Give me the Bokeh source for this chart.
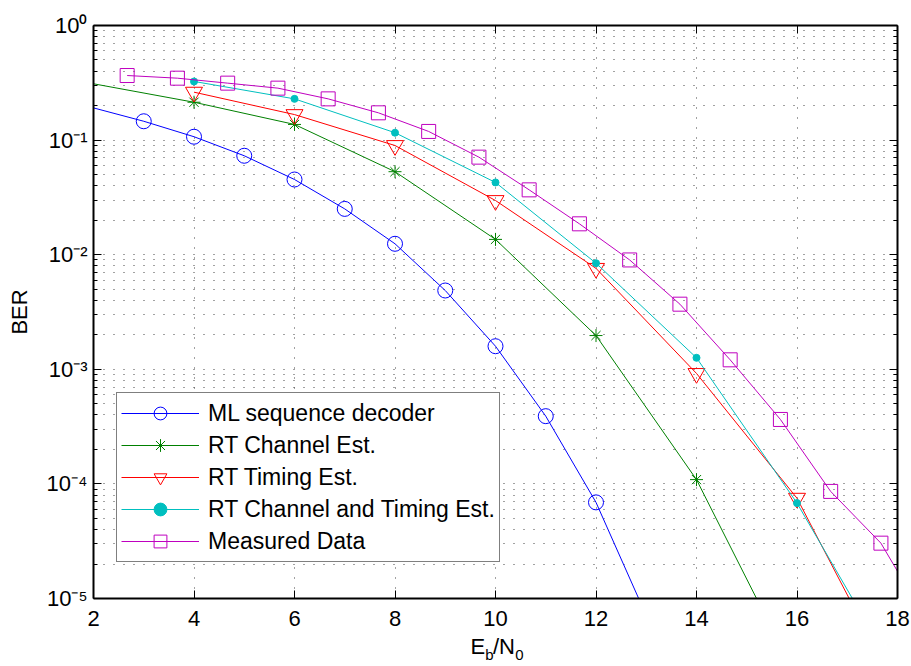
from bokeh.plotting import figure
from bokeh.models import (Range1d, FixedTicker, LogAxis, LinearAxis, Legend, LegendItem,
                          CustomJSTickFormatter)
from bokeh.embed import file_html
from bokeh.resources import INLINE

# ---------------- data ----------------
ml_x = [2, 3, 4, 5, 6, 7, 8, 9, 10, 11, 12, 13]
ml_ber = [0.191, 0.146, 0.107, 0.073, 0.0453, 0.0251, 0.01245, 0.00487, 0.00159, 3.9e-4, 6.9e-5, 7.1e-6]

ch_x = [2, 4, 6, 8, 10, 12, 14, 16]
ch_ber = [0.31, 0.214, 0.137, 0.053, 0.0136, 0.00197, 1.09e-4, 2.0e-6]

tm_x = [4, 6, 8, 10, 12, 14, 16, 18]
tm_ber = [0.262, 0.167, 0.0897, 0.0297, 0.0076, 9.2e-4, 7.5e-5, 1.55e-6]

ct_x = [4, 6, 8, 10, 12, 14, 16, 18]
ct_ber = [0.325, 0.229, 0.116, 0.0427, 0.00843, 1.26e-3, 6.8e-5, 2.1e-6]

ms_x = [2.67, 3.67, 4.67, 5.67, 6.67, 7.67, 8.67, 9.67, 10.67, 11.67, 12.67, 13.67,
        14.67, 15.67, 16.67, 17.67, 18.67]
ms_ber = [0.366, 0.347, 0.314, 0.284, 0.229, 0.173, 0.119, 0.071, 0.0368, 0.0186, 0.009,
          0.0037, 1.21e-3, 3.65e-4, 8.6e-5, 3.04e-5, 5.5e-6]

legend_labels = ["ML sequence decoder", "RT Channel Est.", "RT Timing Est.",
                 "RT Channel and Timing Est.", "Measured Data"]

x_ticks = [2, 4, 6, 8, 10, 12, 14, 16, 18]
y_exponents = [0, -1, -2, -3, -4, -5]
y_label = "BER"
x_label_main = ["E", "/N"]      # E_b / N_0 : full-size parts
x_label_sub = ["b", "0"]        # subscript parts

FONT = "Liberation Sans"

y_major = [10.0 ** k for k in y_exponents]
y_minor = [m * 10.0 ** k for k in y_exponents[1:] for m in range(2, 10)]

W, H = 911, 666
ML, MR, MT, MB = 93, 14, 25, 68

p = figure(width=W, height=H, y_axis_type="log",
           x_range=Range1d(x_ticks[0], x_ticks[-1]),
           y_range=Range1d(10.0 ** y_exponents[-1], 10.0 ** y_exponents[0]),
           output_backend="svg", toolbar_location=None,
           min_border_left=ML, min_border_right=MR, min_border_top=MT, min_border_bottom=MB)
p.outline_line_color = None
p.background_fill_color = "white"
p.border_fill_color = "white"

xt = FixedTicker(ticks=x_ticks)
yt = FixedTicker(ticks=y_major, minor_ticks=y_minor)
empty = CustomJSTickFormatter(code="return ''")
sup_fmt = CustomJSTickFormatter(code="""
const sup = {"0":"\u2070","1":"\u00b9","2":"\u00b2","3":"\u00b3","4":"\u2074",
             "5":"\u2075","6":"\u2076","7":"\u2077","8":"\u2078","9":"\u2079","-":"\u207b"};
const e = Math.round(Math.log10(tick));
return "10" + String(e).split("").map(c => sup[c]).join("");
""")

def style_axis(ax, labels=True):
    ax.axis_line_color = "black"
    ax.axis_line_width = 2
    ax.major_tick_line_color = "black"
    ax.major_tick_in = 8
    ax.major_tick_out = 0
    ax.minor_tick_line_color = "black"
    ax.minor_tick_in = 4
    ax.minor_tick_out = 0
    if not labels:
        ax.formatter = empty
        ax.major_label_text_font_size = "0px"
        ax.major_label_standoff = 0

p.xaxis.ticker = xt
p.yaxis.ticker = yt
style_axis(p.xaxis[0])
p.xaxis.minor_tick_line_color = None
p.xaxis.major_label_text_font = FONT
p.xaxis.major_label_text_font_size = "22px"
p.xaxis.major_label_text_color = "black"
p.xaxis.major_label_standoff = 12

style_axis(p.yaxis[0])
p.yaxis.formatter = sup_fmt
p.yaxis.major_label_text_font = FONT
p.yaxis.major_label_text_font_size = "22px"
p.yaxis.major_label_text_color = "black"
p.yaxis.major_label_standoff = 6
p.yaxis.axis_label = y_label
p.yaxis.axis_label_text_font = FONT
p.yaxis.axis_label_text_font_size = "22px"
p.yaxis.axis_label_text_font_style = "normal"
p.yaxis.axis_label_text_color = "black"
p.yaxis.axis_label_standoff = 12

top = LinearAxis(ticker=xt)
style_axis(top, labels=False)
top.minor_tick_line_color = None
p.add_layout(top, "above")
right = LogAxis(ticker=yt)
style_axis(right, labels=False)
p.add_layout(right, "right")

# ---- x axis title E_b/N_0 drawn as two label-only axes (main text, then subscripts) ----
px_per_unit = (W - ML - MR) / (x_ticks[-1] - x_ticks[0])
xc = (x_ticks[0] + x_ticks[-1]) / 2
main_centers_px = [-17.7, 8.5]    # centre of "E" and "/N" relative to the axis centre
sub_centers_px = [-6.0, 24.0]     # centre of "b" and "0"

def label_axis(centers_px, texts, font_size, standoff):
    ax = LinearAxis(ticker=FixedTicker(ticks=[xc + c / px_per_unit for c in centers_px]),
                    formatter=CustomJSTickFormatter(args=dict(t=texts), code="return t[index]"))
    ax.axis_line_color = None
    ax.major_tick_line_color = None
    ax.minor_tick_line_color = None
    ax.major_label_text_font = FONT
    ax.major_label_text_font_size = font_size
    ax.major_label_text_color = "black"
    ax.major_label_standoff = standoff
    p.add_layout(ax, "below")

label_axis(main_centers_px, x_label_main, "22px", -1)
label_axis(sub_centers_px, x_label_sub, "15px", -22)

p.xgrid.ticker = xt
p.ygrid.ticker = yt
for g in (p.xgrid, p.ygrid):
    g.grid_line_color = "#444444"
    g.grid_line_dash = "1 9"
    g.grid_line_width = 1
p.ygrid.minor_grid_line_color = "#444444"
p.ygrid.minor_grid_line_dash = "1 9"
p.ygrid.minor_grid_line_width = 1

# ---------------- series ----------------
items = []

l = p.line(ml_x, ml_ber, line_color="#0000ff", line_width=1)
s = p.scatter(ml_x[1:11], ml_ber[1:11], marker="circle", size=15,
              line_color="#0000ff", fill_color=None, line_width=1)
items.append(LegendItem(label=legend_labels[0], renderers=[l, s]))

l = p.line(ch_x, ch_ber, line_color="#008000", line_width=1)
s = p.scatter(ch_x[1:7], ch_ber[1:7], marker="asterisk", size=13,
              line_color="#008000", line_width=1)
items.append(LegendItem(label=legend_labels[1], renderers=[l, s]))

l = p.line(tm_x, tm_ber, line_color="#ff0000", line_width=1)
s = p.scatter(tm_x[0:7], tm_ber[0:7], marker="inverted_triangle", size=17,
              line_color="#ff0000", fill_color=None, line_width=1)
items.append(LegendItem(label=legend_labels[2], renderers=[l, s]))

l = p.line(ct_x, ct_ber, line_color="#00bfbf", line_width=1)
s = p.scatter(ct_x[0:7], ct_ber[0:7], marker="circle", size=7,
              line_color="#00bfbf", fill_color="#00bfbf", line_width=1)
items.append(LegendItem(label=legend_labels[3], renderers=[l, s]))

l = p.line(ms_x, ms_ber, line_color="#bf00bf", line_width=1)
s = p.scatter(ms_x[0:16], ms_ber[0:16], marker="square", size=14,
              line_color="#bf00bf", fill_color=None, line_width=1)
items.append(LegendItem(label=legend_labels[4], renderers=[l, s]))

legend = Legend(items=items, location=(23, 36))
legend.margin = 0
legend.padding = 4
legend.spacing = 0
legend.glyph_width = 78
legend.glyph_height = 32
legend.label_height = 32
legend.label_standoff = 9
legend.label_text_font = FONT
legend.label_text_font_size = "23px"
legend.label_text_color = "black"
legend.border_line_color = "black"
legend.border_line_width = 1
legend.background_fill_color = "white"
legend.background_fill_alpha = 1
p.add_layout(legend)

open("out.html", "w").write(file_html(p, INLINE))
